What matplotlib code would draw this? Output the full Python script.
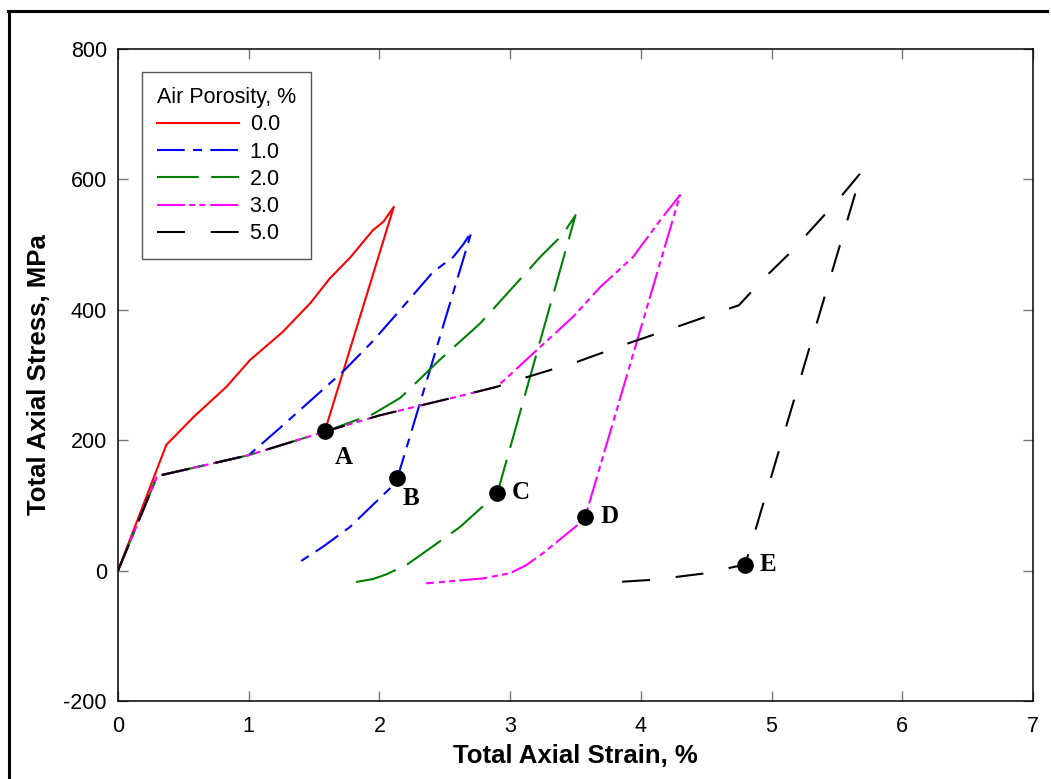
import matplotlib
matplotlib.use("Agg")
import matplotlib.pyplot as plt
from matplotlib.lines import Line2D

# data (strain %, stress MPa)
strain_00 = [0, 0.37, 0.58, 0.83, 1.01, 1.26, 1.47, 1.62, 1.78, 1.90, 1.95, 2.03, 2.11, 1.584]
stress_00 = [0, 193, 236, 282, 323, 366, 410, 448, 481, 510, 522, 535, 558, 215]

strain_10 = [0, 0.3, 1.0, 1.24, 1.48, 1.72, 1.95, 2.16, 2.41, 2.565, 2.64, 2.705,
             2.137, 2.08, 1.775, 1.571, 1.354]
stress_10 = [0, 145, 177, 219, 262, 305, 352, 400, 458, 481, 500, 520,
             141.6, 126, 67, 37, 8.6]

strain_20 = [0, 0.3, 1.0, 1.58, 1.95, 2.16, 2.46, 2.77, 3.14, 3.23, 3.40, 3.50,
             2.902, 2.617, 2.40, 2.207, 2.05, 1.95, 1.79]
stress_20 = [0, 145, 177, 213, 240, 265, 323, 379, 461, 481, 515, 545,
             118.6, 67, 36, 8.6, -6, -13, -18.5]

strain_30 = [0, 0.3, 1.0, 1.58, 2.0, 2.6, 2.9, 3.23, 3.48, 3.69, 3.94, 4.15, 4.30,
             3.573, 3.535, 3.25, 3.12, 3.0, 2.79, 2.357]
stress_30 = [0, 145, 177, 213, 238, 267, 282, 343, 389, 435, 481, 538, 576,
             81.7, 73, 26.5, 8, -4, -12, -19.5]

strain_50 = [0, 0.3, 1.0, 1.58, 2.0, 2.6, 2.9, 3.10, 3.51, 3.91, 4.32, 4.75, 4.94,
             5.14, 5.52, 5.69, 4.797, 4.72, 4.50, 4.10, 3.66]
stress_50 = [0, 145, 177, 213, 238, 267, 282, 295, 320, 349, 377, 407, 448,
             487, 571, 612, 8.6, 6, -4, -14, -19.5]

point_names = ["A", "B", "C", "D", "E"]
point_strain = [1.584, 2.137, 2.902, 3.573, 4.797]
point_stress = [214.6, 141.6, 118.6, 81.7, 8.6]
label_offsets = [(13.7, -24), (9.9, -19.2), (17, -4.3), (17.3, -4.3), (16.6, -4.3)]

plt.rcParams['font.family'] = ['Liberation Sans', 'DejaVu Sans']
plt.rcParams['axes.unicode_minus'] = False

fig = plt.figure(figsize=(10.51, 7.79), dpi=100)
ax = fig.add_axes([118 / 1051, 1 - 701 / 779, 915 / 1051, 652 / 779])

lw = 1.5
ax.plot(strain_00, stress_00, color='red', lw=lw, label='0.0')
ax.plot(strain_10, stress_10, color='blue', lw=lw, linestyle=(0, (13.3, 4, 4.3, 4)), label='1.0')
ax.plot(strain_20, stress_20, color='green', lw=lw, linestyle=(0, (20, 6)), label='2.0')
ax.plot(strain_30, stress_30, color='magenta', lw=lw,
        linestyle=(0, (13.4, 2, 2.9, 2, 2.9, 2.4)), label='3.0')
ax.plot(strain_50, stress_50, color='black', lw=lw, linestyle=(0, (13.4, 12.4)), label='5.0')

ax.plot(point_strain, point_stress, 'o', color='black', markersize=11, zorder=5)
for name, x, y, off in zip(point_names, point_strain, point_stress, label_offsets):
    ax.annotate(name, (x, y), xytext=off, textcoords='offset points',
                ha='center', va='baseline', fontsize=18, fontweight='bold',
                family='Liberation Serif')

ax.set_xlim(0, 7)
ax.set_ylim(-200, 800)
ax.set_xticks(range(0, 8))
ax.set_yticks(range(-200, 801, 200))
ax.tick_params(direction='in', length=7, width=1, color='#777777',
               top=True, right=True, labelsize=15.5)
ax.tick_params(axis='x', pad=11)
ax.tick_params(axis='y', pad=8)
for s in ax.spines.values():
    s.set_linewidth(1.1)

ax.set_xlabel('Total Axial Strain, %', fontsize=18.5, fontweight='bold', labelpad=5)
ax.set_ylabel('Total Axial Stress, MPa', fontsize=18.5, fontweight='bold', labelpad=9)

leg = ax.legend(title='Air Porosity, %', loc='upper left',
                bbox_to_anchor=(24 / 915, 629 / 652), borderaxespad=0,
                fontsize=15.5, title_fontsize=15.5, fancybox=False,
                edgecolor='#555555', framealpha=1, handlelength=3.8,
                handletextpad=0.5, labelspacing=0.29, borderpad=0.7,
                alignment='left')
leg.get_frame().set_linewidth(1)

# outer frame (cropped on the right and bottom)
fig.add_artist(Line2D([8.5 / 1051, 8.5 / 1051], [0, 1 - 11 / 779],
                      transform=fig.transFigure, color='black', lw=2.2))
fig.add_artist(Line2D([7.5 / 1051, 1047 / 1051], [1 - 11 / 779, 1 - 11 / 779],
                      transform=fig.transFigure, color='black', lw=2.2))

fig.savefig('out.png', dpi=100)
